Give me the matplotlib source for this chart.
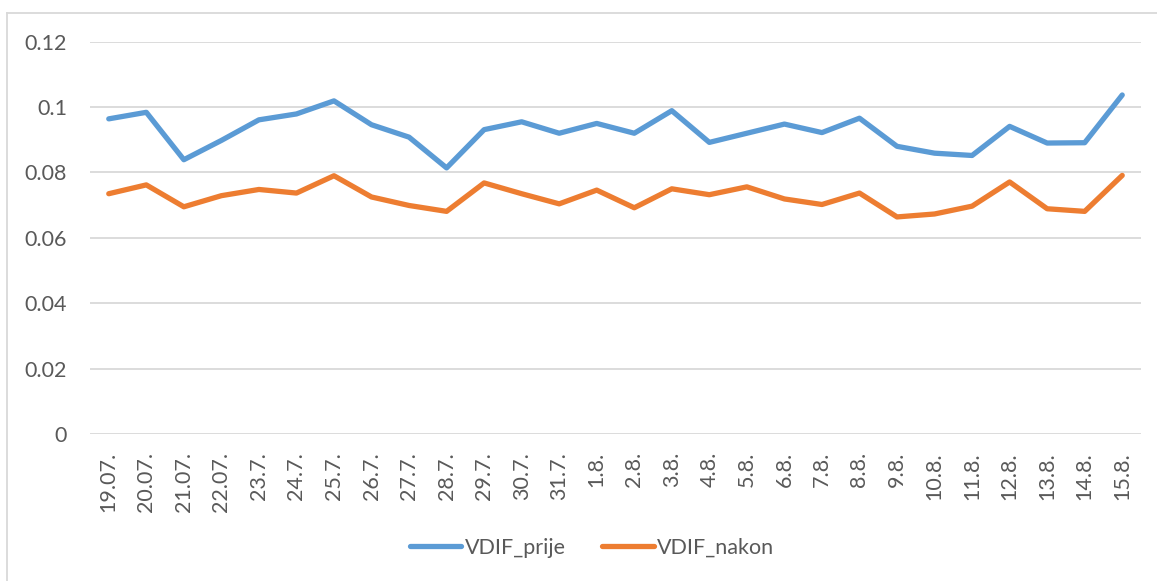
import matplotlib.pyplot as plt
from matplotlib.lines import Line2D

dates = ["19.07.", "20.07.", "21.07.", "22.07.", "23.7.", "24.7.", "25.7.",
         "26.7.", "27.7.", "28.7.", "29.7.", "30.7.", "31.7.", "1.8.",
         "2.8.", "3.8.", "4.8.", "5.8.", "6.8.", "7.8.", "8.8.", "9.8.",
         "10.8.", "11.8.", "12.8.", "13.8.", "14.8.", "15.8."]

vdif_prije = [0.0964, 0.0984, 0.0839, 0.0898, 0.0961, 0.0979, 0.1019,
              0.0946, 0.0908, 0.0814, 0.0931, 0.0955, 0.0920, 0.0950,
              0.0920, 0.0989, 0.0892, 0.0920, 0.0948, 0.0922, 0.0966,
              0.0880, 0.0859, 0.0852, 0.0941, 0.0890, 0.0891, 0.1037]

vdif_nakon = [0.0735, 0.0762, 0.0695, 0.0729, 0.0748, 0.0737, 0.0790,
              0.0725, 0.0699, 0.0681, 0.0768, 0.0735, 0.0704, 0.0746,
              0.0692, 0.0750, 0.0732, 0.0756, 0.0719, 0.0702, 0.0737,
              0.0664, 0.0673, 0.0697, 0.0771, 0.0689, 0.0681, 0.0791]

blue = "#5B9BD5"
orange = "#ED7D31"
grey_txt = "#595959"
grid_c = "#D9D9D9"

plt.rcParams['font.family'] = ['Lato', 'DejaVu Sans']

fig = plt.figure(figsize=(11.57, 5.81), dpi=100)
ax = fig.add_axes([90 / 1157, 1 - 434 / 581, (1141 - 90) / 1157, (434 - 41.7) / 581])

x = range(len(dates))
ax.plot(x, vdif_prije, color=blue, lw=3.8, solid_capstyle="round", solid_joinstyle="round", label="VDIF_prije")
ax.plot(x, vdif_nakon, color=orange, lw=3.8, solid_capstyle="round", solid_joinstyle="round", label="VDIF_nakon")

ax.set_xlim(-0.5, len(dates) - 0.5)
ax.set_ylim(0, 0.12)
ax.set_yticks([0, 0.02, 0.04, 0.06, 0.08, 0.1, 0.12])
ax.set_yticklabels(["0", "0.02", "0.04", "0.06", "0.08", "0.1", "0.12"])
ax.set_xticks(list(x))
ax.set_xticklabels(dates, rotation=90, va="top", ha="center")

ax.grid(axis="y", color=grid_c, lw=1.3)
ax.set_axisbelow(True)
for s in ax.spines.values():
    s.set_visible(False)
ax.tick_params(axis="both", length=0, colors=grey_txt, labelsize=15.5)
ax.tick_params(axis="y", pad=16.5)
ax.tick_params(axis="x", pad=13)

# chart frame, only top and left edges are inside the image
fig.add_artist(Line2D([7 / 1157, 7 / 1157], [0, 1 - 12.5 / 581], color=grid_c, lw=1.3))
fig.add_artist(Line2D([7 / 1157, 1], [1 - 12.5 / 581, 1 - 12.5 / 581], color=grid_c, lw=1.3))

leg = fig.legend(loc="center", bbox_to_anchor=(592 / 1157, 1 - 548 / 581), ncol=2,
                 frameon=False, fontsize=15.5, handlelength=2.4, handletextpad=0.15,
                 columnspacing=1.7, labelcolor=grey_txt)

fig.savefig("out.png", dpi=100)
